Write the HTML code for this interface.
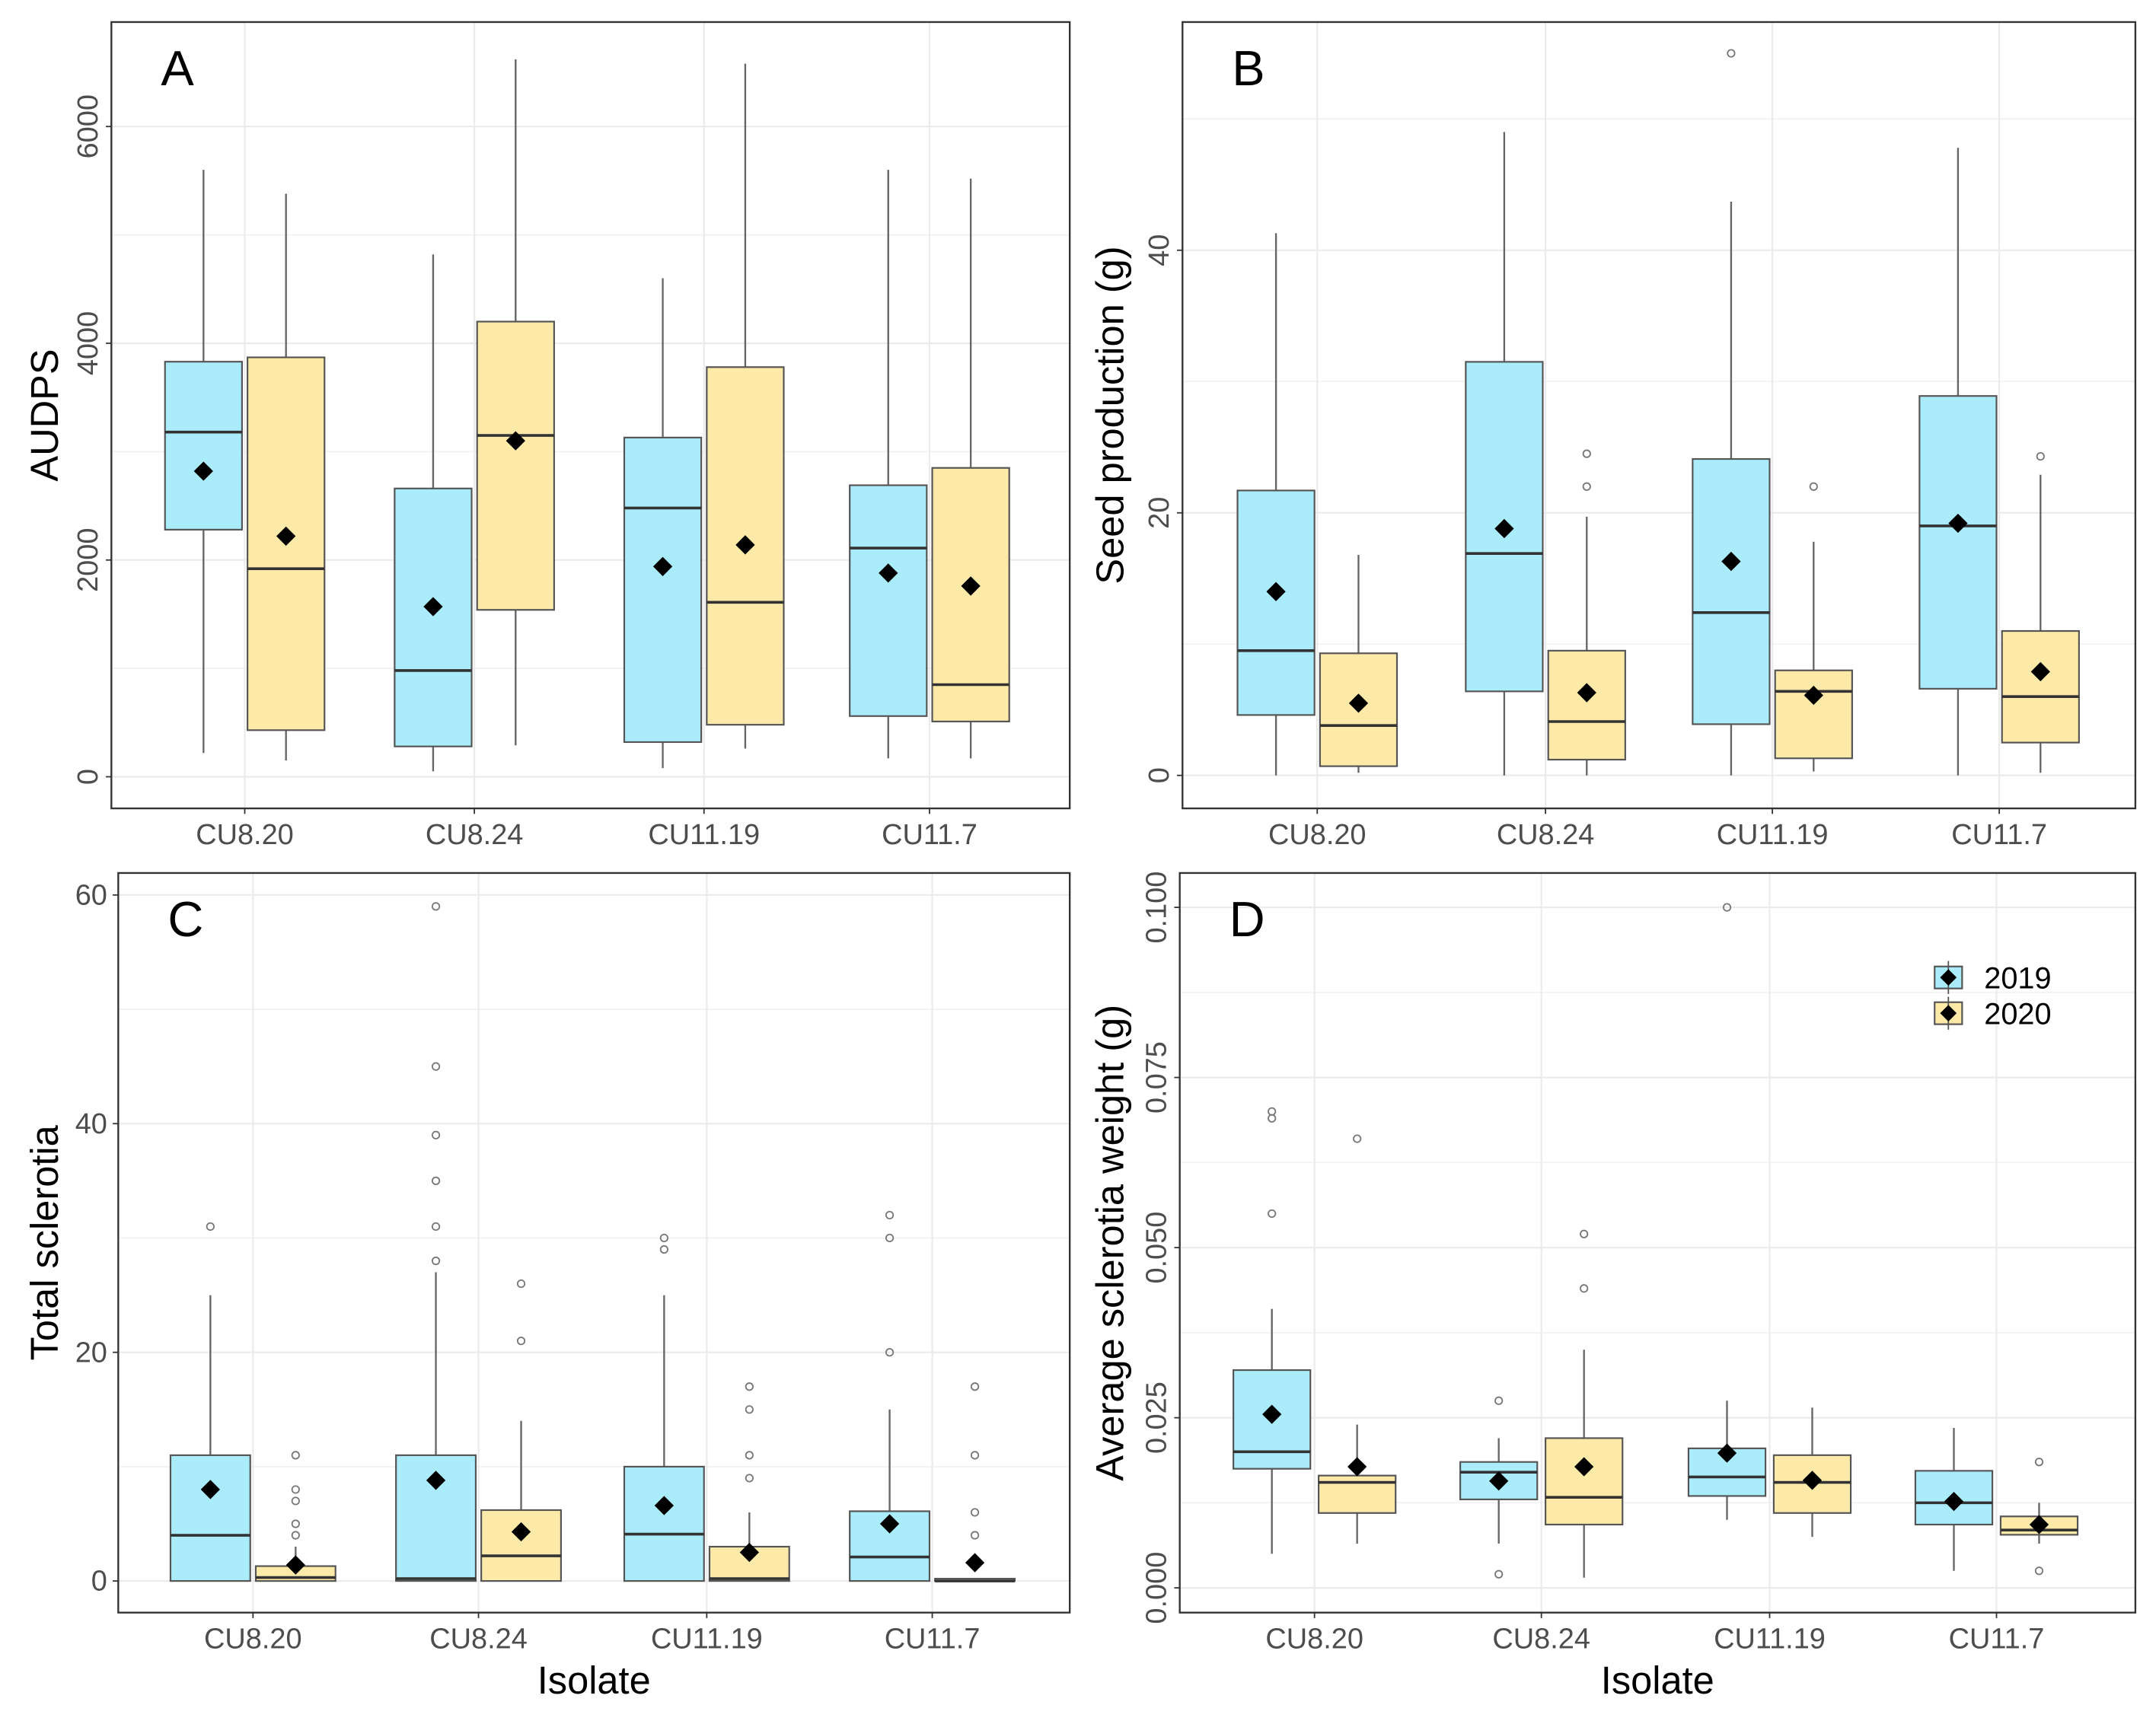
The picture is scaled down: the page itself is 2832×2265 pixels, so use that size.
<!DOCTYPE html>
<html><head><meta charset="utf-8"><style>
html,body{margin:0;padding:0;background:#fff}
svg{display:block}
text{font-family:"Liberation Sans",sans-serif}
</style></head><body>
<svg id="fig" width="2832" height="2265" viewBox="0 0 1568 1254" xmlns="http://www.w3.org/2000/svg"></svg>
<script>
const categories = ["CU8.20","CU8.24","CU11.19","CU11.7"];
const years = ["2019","2020"];
// each stat: [lowWhisker, q1, median, q3, highWhisker, mean]
const audps2019 = [[220,2280,3180,3830,5600,2820],[50,280,980,2660,4820,1570],[80,320,2480,3130,4600,1940],[170,560,2110,2690,5600,1880]];
const audps2020 = [[150,430,1920,3870,5380,2220],[290,1540,3150,4200,6620,3100],[260,480,1610,3780,6580,2140],[170,510,850,2850,5520,1760]];
const audpsOut2019 = [[],[],[],[]];
const audpsOut2020 = [[],[],[],[]];
const seed2019 = [[0,4.6,9.5,21.7,41.3,14],[0,6.4,16.9,31.5,49,18.8],[0,3.9,12.4,24.1,43.7,16.3],[0,6.6,19,28.9,47.8,19.2]];
const seed2020 = [[0.2,0.7,3.8,9.3,16.8,5.5],[0,1.2,4.1,9.5,19.7,6.3],[0.3,1.3,6.4,8,17.8,6.1],[0.2,2.5,6,11,22.9,7.9]];
const seedOut2019 = [[],[],[55],[]];
const seedOut2020 = [[],[22,24.5],[22],[24.3]];
const scl2019 = [[0,0,4,11,25,8],[0,0,0.2,11,27,8.8],[0,0,4.1,10,25,6.6],[0,0,2.1,6.1,15,5]];
const scl2020 = [[0,0,0.3,1.3,3,1.4],[0,0,2.2,6.2,14,4.3],[0,0,0.2,3,6,2.5],[0,0,0,0.2,0.2,1.6]];
const sclOut2019 = [[31],[28,31,35,39,45,59],[29,30],[20,30,32]];
const sclOut2020 = [[4,5,7,8,11],[21,26],[9,11,15,17],[4,6,11,17]];
const wt2019 = [[0.005,0.0175,0.020,0.032,0.041,0.0255],[0.0065,0.013,0.017,0.0185,0.022,0.0157],[0.010,0.0135,0.0163,0.0205,0.0275,0.0198],[0.0025,0.0093,0.0125,0.0172,0.0235,0.0127]];
const wt2020 = [[0.0065,0.011,0.0155,0.0165,0.024,0.0178],[0.0015,0.0093,0.0133,0.022,0.035,0.0178],[0.0075,0.011,0.0155,0.0195,0.0265,0.0158],[0.0065,0.0078,0.0085,0.0105,0.0125,0.0093]];
const wtOut2019 = [[0.055,0.069,0.070],[0.0275,0.002],[0.100],[]];
const wtOut2020 = [[0.066],[0.044,0.052],[],[0.0185,0.0025]];
const ticksA = [0,2000,4000,6000];
const ticksB = [0,20,40];
const ticksC = [0,20,40,60];
const ticksD = [0,0.025,0.05,0.075,0.1];
const labelsD = ["0.000","0.025","0.050","0.075","0.100"];

const NS="http://www.w3.org/2000/svg";
const svg=document.getElementById('fig');
function mk(tag,attrs,parent,txt){const e=document.createElementNS(NS,tag);for(const k in attrs)e.setAttribute(k,attrs[k]);if(txt!==undefined)e.textContent=txt;(parent||svg).appendChild(e);return e;}
const COL=["#aaecfb","#fdeaa8"];

function panel(p){
  const g=mk('g',{});
  
  
  const y=v=>p.y0+(v-p.v0)*(p.y1-p.y0)/(p.v1-p.v0);
  const step=(p.ticks[1]-p.ticks[0]);
  for(let i=0;i<p.ticks.length+1;i++){const v=p.ticks[0]+step*(i+0.5);const yy=y(v);if(yy>p.top&&yy<p.bot)mk('line',{x1:p.left,x2:p.right,y1:yy,y2:yy,stroke:'#f2f2f2','stroke-width':1},g);}
  const vmin=p.ticks[0]-step*0.5; const yy0=y(vmin); if(yy0<p.bot) mk('line',{x1:p.left,x2:p.right,y1:yy0,y2:yy0,stroke:'#f2f2f2','stroke-width':1},g);
  p.ticks.forEach((t,i)=>{const yy=y(t);
    mk('line',{x1:p.left,x2:p.right,y1:yy,y2:yy,stroke:'#ebebeb','stroke-width':1.2},g);
    mk('line',{x1:p.left-4,x2:p.left,y1:yy,y2:yy,stroke:'#333','stroke-width':1},g);
    const lab=p.tlabels?p.tlabels[i]:String(t);
    let tx;
    if(p.rot){tx=mk('text',{x:p.left-10,y:yy,'font-size':21,fill:'#4d4d4d','text-anchor':'middle',transform:`rotate(-90 ${p.left-10} ${yy})`},g,lab);}
    else{tx=mk('text',{x:p.left-8,y:yy+7,'font-size':21,fill:'#4d4d4d','text-anchor':'end'},g,lab);}
    
  });
  p.cx.forEach((cx,i)=>{
    mk('line',{x1:cx,x2:cx,y1:p.top,y2:p.bot,stroke:'#ebebeb','stroke-width':1.2},g);
    mk('line',{x1:cx,x2:cx,y1:p.bot,y2:p.bot+4,stroke:'#333','stroke-width':1},g);
    const t=mk('text',{x:cx,y:p.bot+26,'font-size':21,fill:'#4d4d4d','text-anchor':'middle'},g,categories[i]);
    
  });
  [p.s1,p.s2].forEach((ser,si)=>{
    const outs=si?p.o2:p.o1;
    ser.forEach((s,i)=>{
      const cx=p.cx[i]+(si?p.off:-p.off), hw=p.bw/2;
      const b=mk('g',{},g);
      
      
      mk('line',{x1:cx,x2:cx,y1:y(s[0]),y2:y(s[4]),stroke:'#666','stroke-width':1.3},b);
      mk('rect',{x:cx-hw,y:y(s[3]),width:p.bw,height:Math.max(0.5,y(s[1])-y(s[3])),fill:COL[si],stroke:'#555','stroke-width':1.2},b);
      mk('line',{x1:cx-hw,x2:cx+hw,y1:y(s[2]),y2:y(s[2]),stroke:'#333','stroke-width':2},b);
      outs[i].forEach(o=>{mk('circle',{cx:cx,cy:y(o),r:2.6,fill:'none',stroke:'#777','stroke-width':1},b);});
      const my=y(s[5]);
      const d=mk('path',{d:`M${cx} ${my-7}L${cx+7} ${my}L${cx} ${my+7}L${cx-7} ${my}Z`,fill:'#000'},b);
      
    });
  });
  mk('rect',{x:p.left,y:p.top,width:p.right-p.left,height:p.bot-p.top,fill:'none',stroke:'#333','stroke-width':1.3},g);
  const L=mk('text',{x:p.left+36,y:p.top+46,'font-size':36,fill:'#000'},g,p.letter);
  
  const yc=(p.top+p.bot)/2;
  const yt=mk('text',{x:p.ylx,y:yc,'font-size':28,fill:'#000','text-anchor':'middle',transform:`rotate(-90 ${p.ylx} ${yc})`},g,p.ylab);
  
  if(p.xlab){const xt=mk('text',{x:(p.left+p.right)/2,y:1232,'font-size':28,fill:'#000','text-anchor':'middle'},g,'Isolate');
    }
}
panel({letter:'A',left:81,right:778,top:16,bot:588,v0:0,y0:565,v1:6000,y1:92,ticks:ticksA,rot:true,cx:[178,345,512,676],off:30,bw:56,s1:audps2019,s2:audps2020,o1:audpsOut2019,o2:audpsOut2020,ylab:'AUDPS',ylx:42});
panel({letter:'B',left:860,right:1553,top:16,bot:588,v0:0,y0:564,v1:40,y1:182,ticks:ticksB,rot:true,cx:[958,1124,1289,1454],off:30,bw:56,s1:seed2019,s2:seed2020,o1:seedOut2019,o2:seedOut2020,ylab:'Seed production (g)',ylx:817});
panel({letter:'C',left:86,right:778,top:635,bot:1173,v0:0,y0:1150,v1:60,y1:651,ticks:ticksC,rot:false,cx:[184,348,514,678],off:31,bw:58,s1:scl2019,s2:scl2020,o1:sclOut2019,o2:sclOut2020,ylab:'Total sclerotia',ylx:42,xlab:true});
panel({letter:'D',left:858,right:1553,top:635,bot:1173,v0:0,y0:1155,v1:0.1,y1:660,ticks:ticksD,tlabels:labelsD,rot:true,cx:[956,1121,1287,1452],off:31,bw:56,s1:wt2019,s2:wt2020,o1:wtOut2019,o2:wtOut2020,ylab:'Average sclerotia weight (g)',ylx:817,xlab:true});
const lg=mk('g',{});


years.forEach((yr,i)=>{
  const yy=711+i*26;
  const e=mk('g',{},lg);
  
  
  mk('rect',{x:1407,y:yy-8,width:20,height:16,fill:COL[i],stroke:'#555','stroke-width':1.2},e);
  mk('line',{x1:1417,x2:1417,y1:yy-12,y2:yy+12,stroke:'#555','stroke-width':1},e);
  mk('path',{d:`M1417 ${yy-6}L1423 ${yy}L1417 ${yy+6}L1411 ${yy}Z`,fill:'#000'},e);
  mk('text',{x:1443,y:yy+8,'font-size':22,fill:'#000'},e,yr);
});
</script>
</body></html>
